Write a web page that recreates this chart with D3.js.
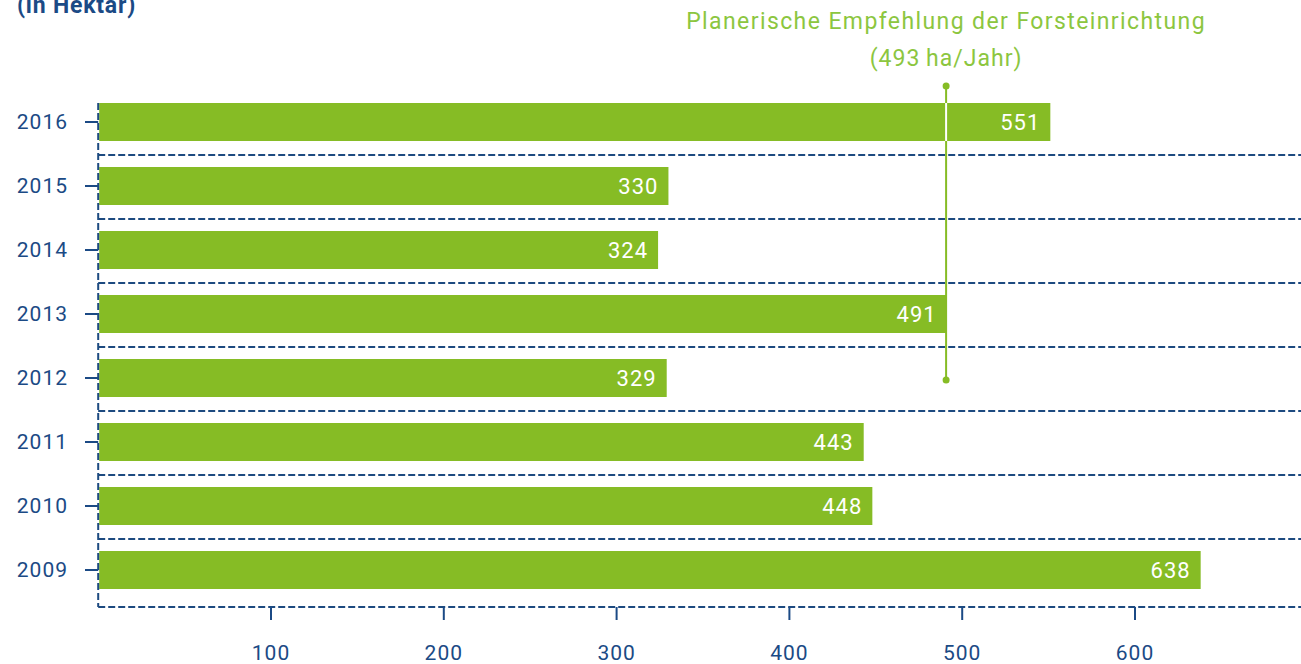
<!DOCTYPE html>
<html><head><meta charset="utf-8">
<script src="https://cdn.jsdelivr.net/npm/d3@7"></script>
<style>body{margin:0;background:#fff}svg{display:block}</style>
</head><body>
<script>
const years = ["2016","2015","2014","2013","2012","2011","2010","2009"];
const values = [551,330,324,491,329,443,448,638];
const xTicks = [100,200,300,400,500,600];
const recommendation = 493;
const titleText = "(in Hektar)";
const noteLines = ["Planerische Empfehlung der Forsteinrichtung","(493\u2009ha/Jahr)"];

const W=1301,H=664;
const navy="#1b4a85", green="#86bc25", dashCol="#1d4a80";
const font="Roboto, 'DejaVu Sans', sans-serif";
const svg=d3.select("body").append("svg").attr("width",W).attr("height",H);

const x=d3.scaleLinear().domain([0,700]).range([98.2,98.2+1209.6]);
const y=d3.scaleBand().domain(years).range([90,602]).paddingInner(26/64).paddingOuter(13/64);
const bw=y.bandwidth();
const axisY=y(years[years.length-1])+bw/2+37;

// title
svg.append("text").attr("x",17).attr("y",13).attr("fill",navy).attr("font-family",font)
  .attr("font-weight","bold").attr("font-size",23).attr("letter-spacing",0.8).text(titleText);

// separators
const seps=years.slice(0,-1).map(d=>y(d)+bw/2+33);
svg.selectAll("line.sep").data(seps).enter().append("line").attr("class","sep")
  .attr("x1",x(0)).attr("x2",W).attr("y1",d=>d).attr("y2",d=>d)
  .attr("stroke",dashCol).attr("stroke-width",2).attr("stroke-dasharray","7,3");

// bars
svg.selectAll("rect.bar").data(values).enter().append("rect").attr("class","bar")
  .attr("x",x(0)+1).attr("y",(d,i)=>y(years[i])).attr("width",d=>x(d)-x(0)-1).attr("height",bw)
  .attr("fill",green);

// value labels
svg.selectAll("text.val").data(values).enter().append("text").attr("class","val")
  .attr("x",d=>x(d)-10).attr("y",(d,i)=>y(years[i])+bw/2+8).attr("text-anchor","end")
  .attr("fill","#fff").attr("font-family",font).attr("font-size",22).attr("letter-spacing",1).text(d=>d);

// bottom axis line
svg.append("line").attr("x1",x(0)).attr("x2",W).attr("y1",axisY).attr("y2",axisY)
  .attr("stroke",dashCol).attr("stroke-width",2).attr("stroke-dasharray","7,3");
// left axis line
svg.append("line").attr("x1",x(0)).attr("x2",x(0)).attr("y1",y(years[0])).attr("y2",axisY)
  .attr("stroke",dashCol).attr("stroke-width",2).attr("stroke-dasharray","7,3");

// y ticks
const yt=svg.selectAll("g.yt").data(years).enter().append("g").attr("class","yt")
  .attr("transform",d=>`translate(0,${y(d)+bw/2})`);
yt.append("line").attr("x1",85).attr("x2",x(0)).attr("stroke",navy).attr("stroke-width",2);
yt.append("text").attr("x",68).attr("y",7).attr("text-anchor","end").attr("fill",navy)
  .attr("font-family",font).attr("font-size",21).attr("letter-spacing",1).text(d=>d);

// x ticks
const xt=svg.selectAll("g.xt").data(xTicks).enter().append("g").attr("class","xt")
  .attr("transform",d=>`translate(${x(d)},0)`);
xt.append("line").attr("y1",axisY).attr("y2",axisY+13).attr("stroke",navy).attr("stroke-width",2);
xt.append("text").attr("y",660).attr("text-anchor","middle").attr("fill",navy)
  .attr("font-family",font).attr("font-size",21).attr("letter-spacing",1).text(d=>d);

// recommendation line
const rx=x(recommendation)-4;
const ry1=86, ry2=y("2012")+bw/2+2;
svg.append("line").attr("x1",rx).attr("x2",rx).attr("y1",ry1).attr("y2",ry2)
  .attr("stroke",green).attr("stroke-width",2);
values.forEach((v,i)=>{
  const top=y(years[i]);
  if(v>recommendation && top<ry2){
    svg.append("line").attr("x1",rx).attr("x2",rx).attr("y1",top).attr("y2",top+bw)
      .attr("stroke","#fff").attr("stroke-width",2);
  }
});
[ry1,ry2].forEach(cy=>svg.append("circle").attr("cx",rx).attr("cy",cy).attr("r",3.5).attr("fill",green));

// note text
svg.selectAll("text.note").data(noteLines).enter().append("text").attr("class","note")
  .attr("x",rx).attr("y",(d,i)=>29+i*37).attr("text-anchor","middle").attr("fill","#8cc63f")
  .attr("font-family",font).attr("font-size",23).attr("letter-spacing",(d,i)=>i?1:1.4).text(d=>d);
</script>
</body></html>
